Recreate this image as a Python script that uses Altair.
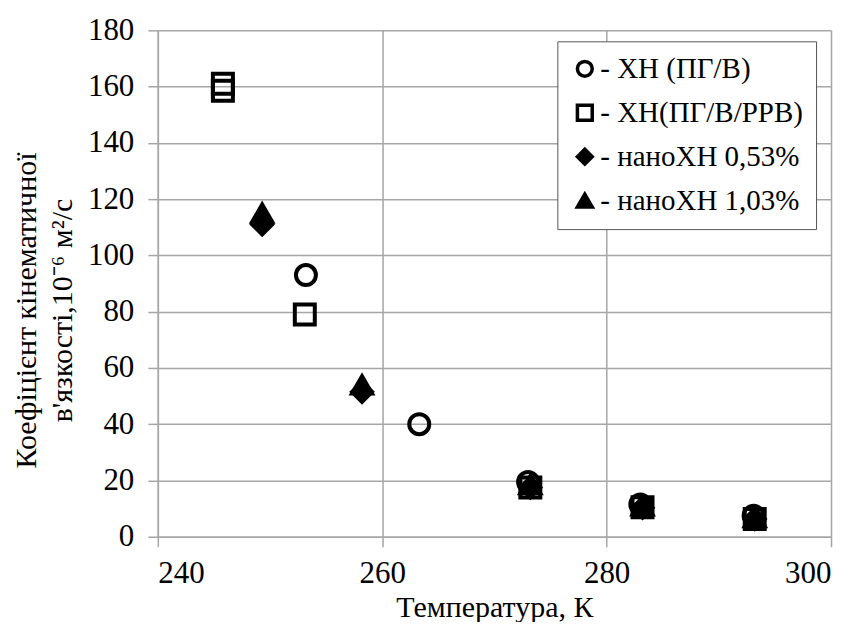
import altair as alt
import pandas as pd

series_names = ["ХН (ПГ/В)", "ХН(ПГ/В/РРВ)", "наноХН 0,53%", "наноХН 1,03%"]

# ХН (ПГ/В) - open circles
t_circle = [253.2, 263.3, 273.0, 283.0, 293.1]
v_circle = [93.0, 40.0, 19.5, 11.5, 7.5]

# ХН(ПГ/В/РРВ) - open squares
t_square = [245.8, 245.8, 253.1, 273.2, 283.2, 293.2]
v_square = [161.0, 158.5, 79.0, 17.5, 10.5, 6.3]

# наноХН 0,53% - filled diamonds
t_diamond = [249.3, 258.2, 273.2, 283.2, 293.2]
v_diamond = [111.0, 51.5, 17.5, 10.3, 6.3]

# наноХН 1,03% - filled triangles
t_triangle = [249.3, 258.2, 273.2, 283.2, 293.2]
v_triangle = [115.0, 54.0, 18.5, 11.0, 6.8]

rows = []
for name, ts, vs in zip(series_names,
                        [t_circle, t_square, t_diamond, t_triangle],
                        [v_circle, v_square, v_diamond, v_triangle]):
    for t, v in zip(ts, vs):
        rows.append({"series": name, "T": t, "V": v})
df = pd.DataFrame(rows)

FONT = "Liberation Serif"
GRID = "#a6a6a6"

legend = alt.Legend(
    title=None, orient="none", legendX=400, legendY=11,
    labelExpr="'- ' + datum.label", labelFont=FONT, labelFontSize=29,
    labelColor="black", labelLimit=400, symbolSize=220, symbolStrokeWidth=3.5,
    rowPadding=14, padding=13, labelOffset=1,
    strokeColor="#555555", fillColor="white",
)

chart = alt.Chart(df).mark_point(filled=False, opacity=1, strokeWidth=4, size=400).encode(
    x=alt.X("T:Q", scale=alt.Scale(domain=[240, 300], nice=False, zero=False),
            axis=alt.Axis(values=[240, 260, 280, 300], title="Температура, К")),
    y=alt.Y("V:Q", scale=alt.Scale(domain=[0, 180], nice=False),
            axis=alt.Axis(values=list(range(0, 181, 20)),
                          title=["Коефіцієнт кінематичної", "в'язкості,10⁻⁶ м²/с"],
                          titleAngle=-90, titleX=-146, titleY=280, titleAlign="center",
                          titleBaseline="top", titleLineHeight=36)),
    shape=alt.Shape("series:N", scale=alt.Scale(domain=series_names,
                    range=["circle", "square", "diamond", "triangle-up"]), legend=legend),
    fill=alt.Fill("series:N", scale=alt.Scale(domain=series_names,
                  range=["transparent", "transparent", "black", "black"]), legend=legend),
    stroke=alt.Stroke("series:N", scale=alt.Scale(domain=series_names,
                      range=["black", "black", "black", "black"]), legend=legend),
).properties(
    width=674, height=507,
    autosize=alt.AutoSizeParams(type="none"),
    padding={"left": 150, "top": 22, "right": 20, "bottom": 85},
).configure(font=FONT).configure_view(stroke=None).configure_axis(
    grid=True, gridColor=GRID, gridWidth=1.5, domainColor=GRID, domainWidth=1.5,
    tickColor=GRID, tickWidth=1.5, tickSize=10,
    labelFont=FONT, labelFontSize=31, labelColor="black",
    titleFont=FONT, titleFontSize=30, titleFontWeight="normal", titleColor="black",
).configure_axisX(labelPadding=12, titlePadding=4).configure_axisY(labelPadding=14)

chart.save("out.html", embed_options={"renderer": "svg", "actions": False})
